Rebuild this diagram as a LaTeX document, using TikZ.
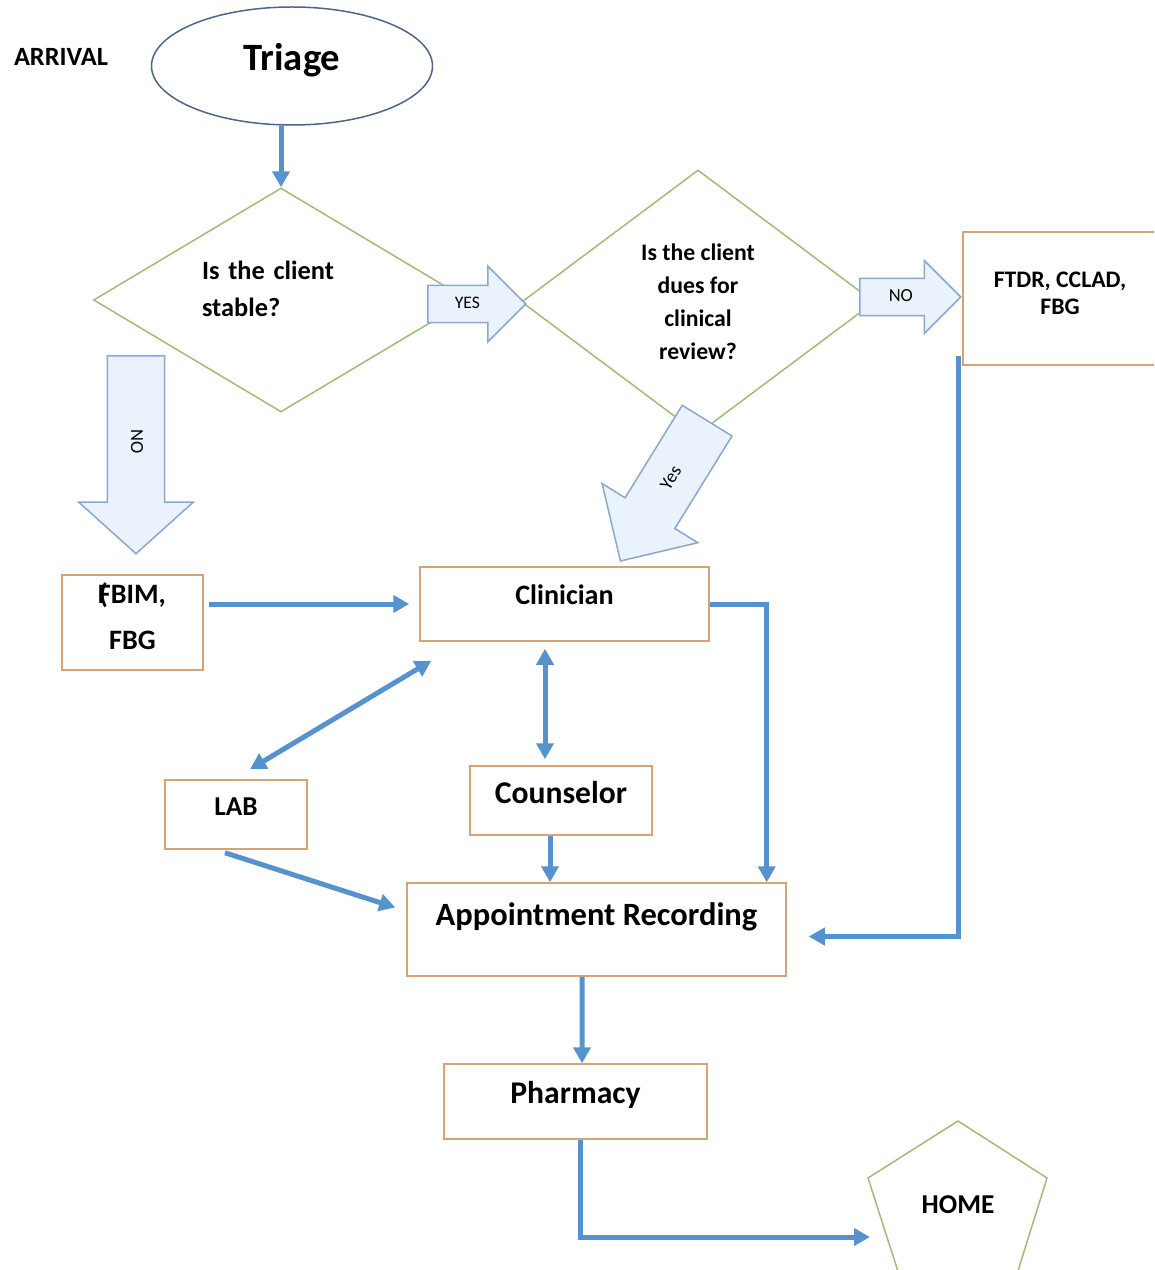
\documentclass[tikz,border=0pt]{standalone}
\usepackage{fontspec}
\setmainfont{Carlito}
\usetikzlibrary{arrows.meta,positioning,calc,shapes.geometric,shapes.arrows}
\definecolor{linkblue}{RGB}{86,146,206}
\definecolor{qline}{RGB}{160,187,122}
\definecolor{boxline}{RGB}{212,163,118}
\definecolor{ovalline}{RGB}{78,98,138}
\definecolor{fatline}{RGB}{138,168,204}
\definecolor{fatfill}{RGB}{234,243,252}
\def\px{0.02cm}
\tikzset{
  box/.style    = {draw=boxline, line width=0.03cm, fill=white, inner sep=0pt, align=center},
  oval/.style   = {ellipse, draw=ovalline, line width=0.03cm, inner sep=0pt},
  query/.style  = {diamond, draw=qline, line width=0.03cm, inner sep=0pt},
  fatarrow/.style = {single arrow, draw=fatline, fill=fatfill, line width=0.03cm,
                     inner sep=0pt, single arrow head indent=0pt, anchor=tail},
  link/.style   = {line width=0.1cm, draw=linkblue,
                   >={Triangle[length=0.32cm,width=0.34cm]}},
  lift/.style   = {text depth=#1}
}

\begin{document}
\begin{tikzpicture}[x=\px,y=-\px]
\useasboundingbox (0,0) rectangle (1154,1270);
\clip (0,0) rectangle (1154,1270);

% --- arrival and triage ---
\node[font=\bfseries\fontsize{15}{17}\selectfont] (arrival) at (61,57) {ARRIVAL};
\node[oval, minimum width=281*\px, minimum height=118*\px, lift=0.36cm,
      font=\bfseries\fontsize{22}{26}\selectfont] (triage) at (292,66) {Triage};

% --- decisions ---
\node[query, aspect=1.67, minimum width=375*\px, minimum height=224*\px,
      text width=3.16cm, align=left, text depth=34pt,
      font=\bfseries\fontsize{15}{21}\selectfont] (q1) at (281,300) {Is the client\\stable?};
\node[query, aspect=1.34, minimum width=353*\px, minimum height=264*\px, align=center,
      font=\bfseries\fontsize{13.5}{18.7}\selectfont] (q2) at (698,302)
      {Is the client\\dues for\\clinical\\review?};

% --- block arrows ---
\node[fatarrow, minimum height=1.96cm, minimum width=1.48cm, single arrow head extend=0.38cm,
      text height=0.46cm, text depth=0.26cm, font=\fontsize{10}{12}\selectfont] (yes1) at (427,304) {YES};
\node[fatarrow, minimum height=2.02cm, minimum width=1.42cm, single arrow head extend=0.355cm,
      text height=0.46cm, text depth=0.26cm, font=\fontsize{10.5}{12}\selectfont] (no1) at (859,297) {NO};
\node[fatarrow, rotate=-90, minimum height=3.96cm, minimum width=2.26cm, single arrow head extend=0.57cm,
      single arrow tip angle=96, text height=0.66cm, text depth=0.46cm,
      font=\fontsize{10.5}{12}\selectfont] (no2) at (136,355) {NO};
\node[fatarrow, rotate=58.3, shape border rotate=180, minimum height=3.3cm, minimum width=2.22cm,
      single arrow head extend=0.54cm, text height=0.67cm, text depth=0.47cm,
      font=\fontsize{10.5}{12}\selectfont] (yes2) at (707.5,420) {Yes};

% --- boxes ---
\node[box, minimum width=194*\px, minimum height=133*\px, lift=5.7pt,
      font=\bfseries\fontsize{13.5}{15.3}\selectfont] (ftdr) at (1060,298.5) {FTDR, CCLAD,\\FBG};
\node[box, minimum width=141*\px, minimum height=95*\px, lift=7.4pt,
      font=\bfseries\fontsize{16}{26.6}\selectfont] (fbim) at (132.5,622.5) {(\kern-.35em FBIM,\\FBG};
\node[box, minimum width=289*\px, minimum height=74*\px, lift=0.36cm,
      font=\bfseries\fontsize{16}{18}\selectfont] (clin) at (564.5,604) {Clinician};
\node[box, minimum width=142*\px, minimum height=69*\px, lift=0.32cm,
      font=\bfseries\fontsize{15.5}{18}\selectfont] (lab) at (236,814.5) {LAB};
\node[box, minimum width=182*\px, minimum height=69*\px, lift=0.32cm,
      font=\bfseries\fontsize{18}{20}\selectfont] (couns) at (561,800.5) {Counselor};
\node[box, minimum width=379*\px, minimum height=93*\px, lift=0.6cm,
      font=\bfseries\fontsize{18.5}{20}\selectfont] (appt) at (596.5,929.5) {Appointment Recording};
\node[box, minimum width=263*\px, minimum height=75*\px, lift=0.36cm,
      font=\bfseries\fontsize{18}{20}\selectfont] (pharm) at (575.5,1101.5) {Pharmacy};

% --- home ---
\node[font=\bfseries\fontsize{15.5}{18}\selectfont] (home) at (958,1205) {HOME};
\draw[draw=qline, line width=0.03cm] ($(home)+(0,-84)$) -- ($(home)+(89,-27)$) -- ($(home)+(54,85)$)
  -- ($(home)+(-54,85)$) -- ($(home)+(-90,-27)$) -- cycle;
\coordinate (hometip) at ($(home)+(-88,32)$);

% --- connectors ---
\draw[link,->] (q1.north |- triage.south) -- (q1.north);
\draw[link,->] ($(fbim.east |- clin.west)+(5,0)$) -- ($(clin.west)+(-10,0)$);
\draw[link,->] (clin.east) -| ($(appt.north east)+(-20,0)$);
\draw[link,<->] ($(clin.south)+(-19.5,7)$) -- ($(couns.north)+(-16,-6)$);
\draw[link,<->] ($(lab.north)+(14,-10)$) -- ($(clin.south west)+(12,19)$);
\draw[link,->] ($(couns.south)+(-11,0)$) -- ($(appt.north)+(-46.5,0)$);
\draw[link,->] ($(lab.south)+(-11,3)$) -- ($(appt.west)+(-11,-22)$);
\draw[link,->] ($(ftdr.south west)+(-4,-10)$) |- ($(appt.east)+(22,7)$);
\draw[link,->] ($(appt.south)+(-14.5,0)$) -- ($(pharm.north)+(6.5,0)$);
\draw[link,->] ($(pharm.south)+(4.5,0)$) |- (hometip);

\end{tikzpicture}
\end{document}
